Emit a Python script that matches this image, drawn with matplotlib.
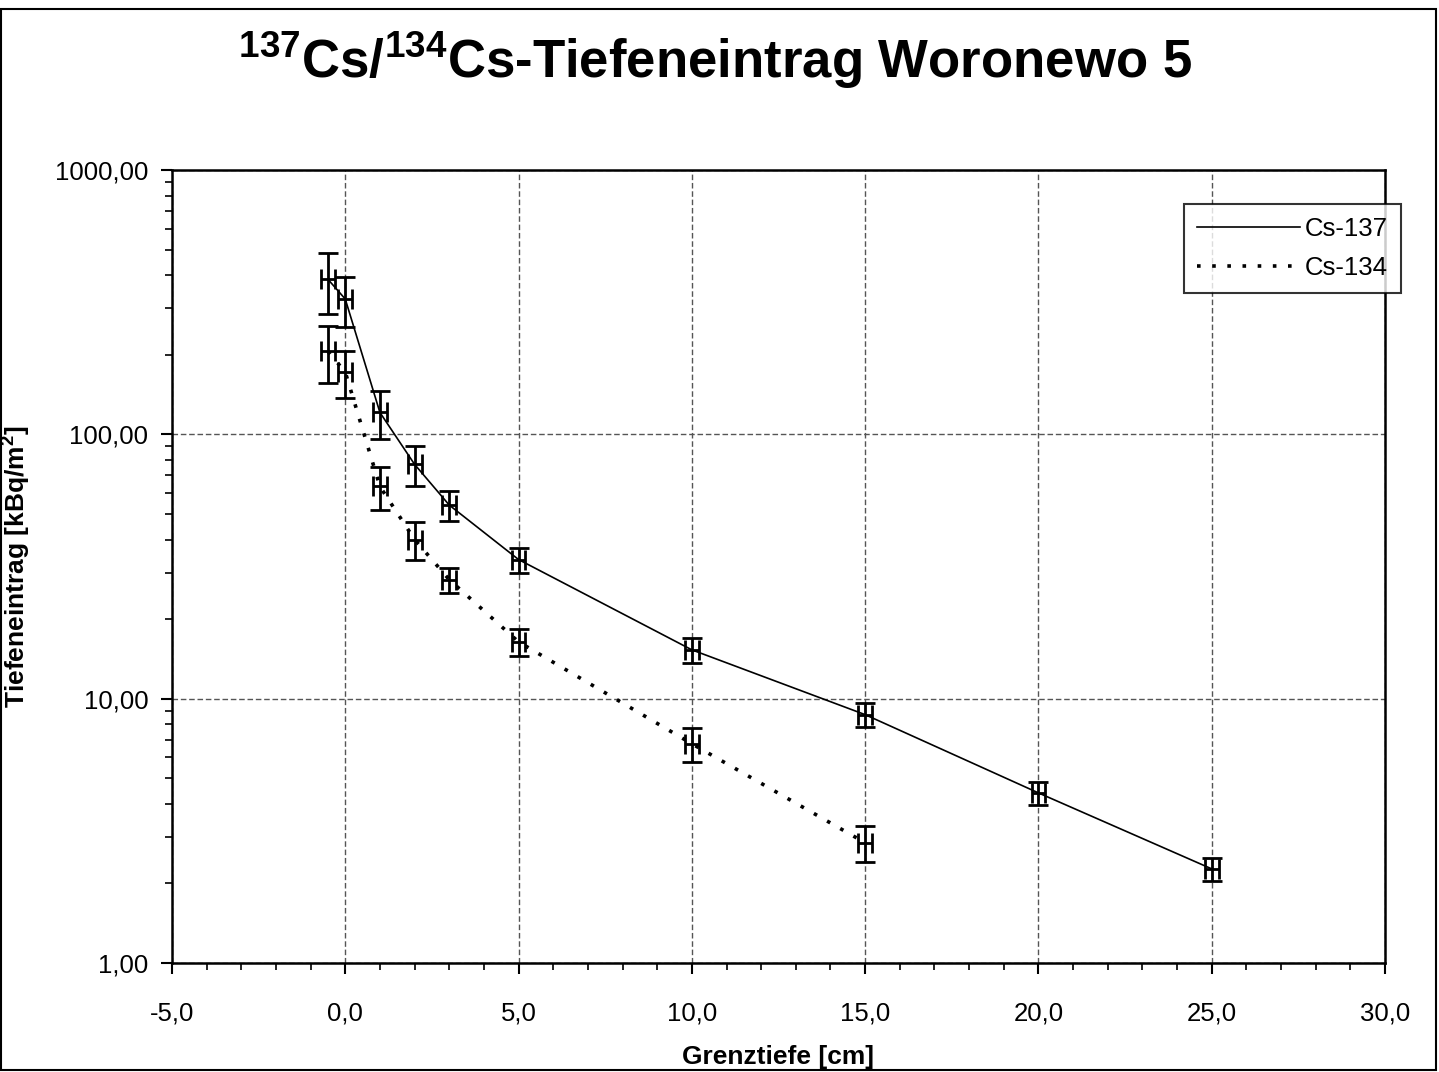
import matplotlib
matplotlib.use("Agg")
import matplotlib.pyplot as plt
from matplotlib.ticker import FuncFormatter, MultipleLocator, LogLocator, NullFormatter
from matplotlib.patches import Rectangle

plt.rcParams['font.family'] = ['Liberation Sans', 'DejaVu Sans']
plt.rcParams['mathtext.default'] = 'regular'

# Tiefe [cm] und Tiefeneintrag [kBq/m2]
tiefe_137 = [-0.5, 0.0, 1.0, 2.0, 3.0, 5.0, 10.0, 15.0, 20.0, 25.0]
wert_137 = [386, 325, 121, 77, 54, 33.6, 15.3, 8.7, 4.4, 2.27]
fehler_137 = [100, 70, 25, 13, 7, 3.7, 1.7, 0.9, 0.45, 0.23]

tiefe_134 = [-0.5, 0.0, 1.0, 2.0, 3.0, 5.0, 10.0, 15.0]
wert_134 = [206, 172, 63.5, 40, 28.2, 16.4, 6.75, 2.85]
fehler_134 = [50, 35, 11.7, 6.5, 3.0, 1.9, 1.0, 0.45]

x_fehler = 0.2

fig = plt.figure(figsize=(14.39, 10.72), dpi=100)
ax = fig.add_axes([0.1195, 0.1017, 0.843, 0.7397])

ax.plot(tiefe_137, wert_137, color="black", lw=1.2, label="Cs-137")
ax.plot(tiefe_134, wert_134, color="black", lw=2.6, linestyle=(0, (1, 3.2)), label="Cs-134")

for t, w, f in [(tiefe_137, wert_137, fehler_137), (tiefe_134, wert_134, fehler_134)]:
    ax.errorbar(t, w, yerr=f, xerr=x_fehler, fmt="none", ecolor="black",
                elinewidth=2, capsize=7, capthick=2)

ax.set_yscale("log")
ax.set_xlim(-5, 30)
ax.set_ylim(1, 1000)
ax.xaxis.set_major_locator(MultipleLocator(5))
ax.xaxis.set_minor_locator(MultipleLocator(1))
ax.yaxis.set_major_locator(LogLocator(base=10))
ax.yaxis.set_minor_locator(LogLocator(base=10, subs=range(2, 10)))
ax.yaxis.set_minor_formatter(NullFormatter())
ax.xaxis.set_major_formatter(FuncFormatter(lambda v, p: f"{v:.1f}".replace(".", ",")))
ax.yaxis.set_major_formatter(FuncFormatter(lambda v, p: f"{v:.2f}".replace(".", ",")))
ax.tick_params(axis="both", which="major", labelsize=18.5, length=8, width=1.5, direction="out", pad=9)
ax.tick_params(axis="x", which="major", pad=20)
ax.tick_params(axis="both", which="minor", length=5, width=1.2, direction="out")

ax.grid(True, which="major", color="#555555", linestyle=(0, (4, 2)), lw=1)
for s in ax.spines.values():
    s.set_linewidth(1.8)

ax.set_xlabel("Grenztiefe [cm]", fontsize=19, fontweight="bold", labelpad=14)
ax.set_ylabel("Tiefeneintrag [kBq/m$^2$]", fontsize=19, fontweight="bold", labelpad=16)

fig.text(0.497, 0.944, "$^{137}$Cs/$^{134}$Cs-Tiefeneintrag Woronewo 5",
         ha="center", va="center", fontsize=38, fontweight="bold")

leg = ax.legend(loc="upper right", bbox_to_anchor=(0.9735, 0.8097), bbox_transform=fig.transFigure,
                fontsize=18.5, frameon=True, fancybox=False, edgecolor="black",
                handlelength=4.0, handletextpad=0.2, borderpad=0.5, labelspacing=0.6,
                borderaxespad=0)
leg.get_frame().set_linewidth(1.5)

fig.patches.append(Rectangle((0.001, 0.002), 0.997, 0.99, transform=fig.transFigure,
                             fill=False, edgecolor="black", lw=1.5))

fig.savefig("out.png", dpi=100)
